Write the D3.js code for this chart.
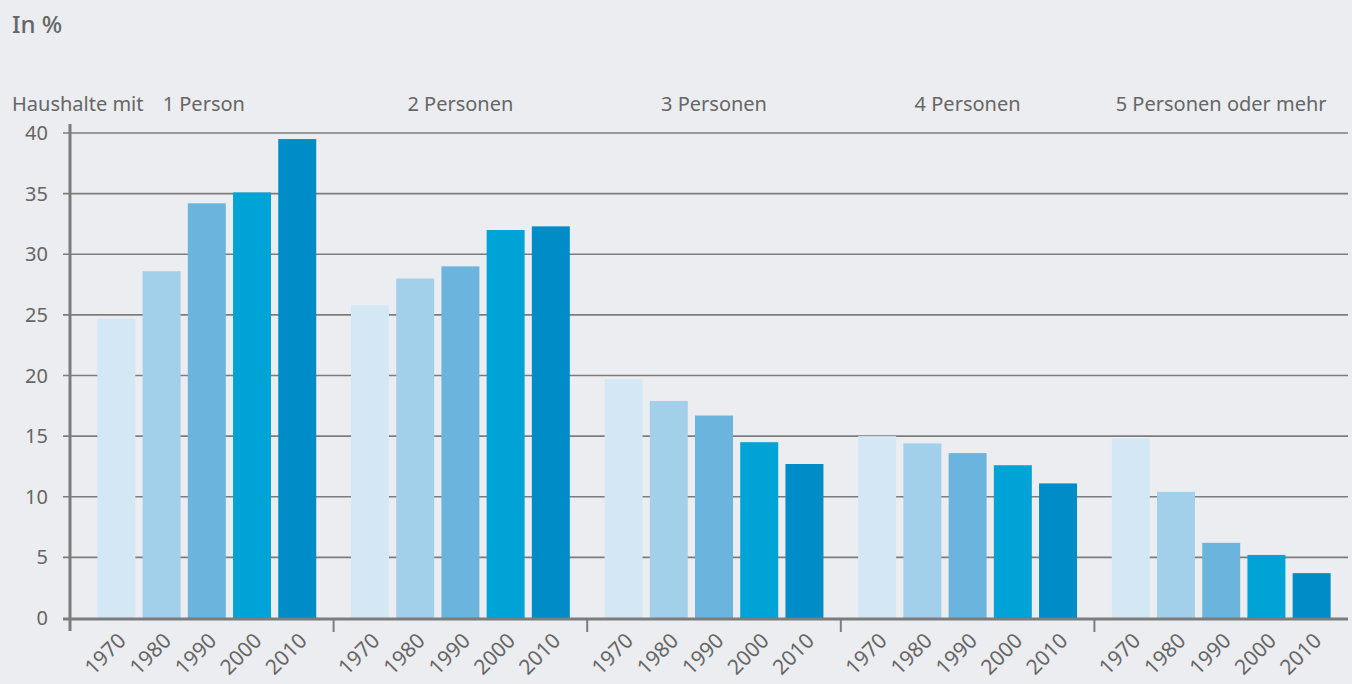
<!DOCTYPE html>
<html>
<head>
<meta charset="utf-8">
<script src="https://cdn.jsdelivr.net/npm/d3@7"></script>
<style>
  body { margin: 0; background: #ecedf0; }
  svg { display: block; font-family: "Noto Sans", sans-serif; }
</style>
</head>
<body>
<svg id="chart" width="1352" height="684"></svg>
<script>
// Haushalte nach Personenzahl, in %
var groups = ["1 Person", "2 Personen", "3 Personen", "4 Personen", "5 Personen oder mehr"];
var years = ["1970", "1980", "1990", "2000", "2010"];
var v1970 = [24.7, 25.8, 19.7, 15.0, 14.8];
var v1980 = [28.6, 28.0, 17.9, 14.4, 10.4];
var v1990 = [34.2, 29.0, 16.7, 13.6, 6.2];
var v2000 = [35.1, 32.0, 14.5, 12.6, 5.2];
var v2010 = [39.5, 32.3, 12.7, 11.1, 3.7];
var yTicks = [0, 5, 10, 15, 20, 25, 30, 35, 40];
var colors = ["#d4e7f5", "#a2cfe9", "#6bb4dd", "#00a3d5", "#008cc7"];

var series = [v1970, v1980, v1990, v2000, v2010];
var rows = [];
groups.forEach(function(g, gi) {
  years.forEach(function(yr, yi) {
    rows.push({ group: g, year: yr, value: series[yi][gi] });
  });
});

var svg = d3.select("#chart");
var textColor = "#666";
var lineColor = "#7c7c7c";

var axisX = 70, plotRight = 1348;

var y = d3.scaleLinear().domain([0, 40]).range([618, 133]);

var x0 = d3.scaleBand()
  .domain(groups)
  .range([80, 1348])
  .paddingInner(0.137)
  .paddingOuter(0.0685);

var x1 = d3.scaleBand()
  .domain(years)
  .range([0, x0.bandwidth()])
  .paddingInner(0.16)
  .paddingOuter(0);

var color = d3.scaleOrdinal().domain(years).range(colors);

// title
svg.append("text")
  .attr("x", 12).attr("y", 33)
  .style("font-size", "24px")
  .style("font-weight", "500")
  .style("fill", textColor)
  .text("In %");

// gridlines
svg.append("g").selectAll("line")
  .data(yTicks.filter(function(d) { return d > 0; }))
  .enter().append("line")
  .attr("x1", axisX - 7).attr("x2", plotRight)
  .attr("y1", function(d) { return y(d); })
  .attr("y2", function(d) { return y(d); })
  .style("stroke", lineColor)
  .style("stroke-width", "1.6px");

// y labels
svg.append("g").selectAll("text")
  .data(yTicks)
  .enter().append("text")
  .attr("x", 48)
  .attr("y", function(d) { return y(d); })
  .attr("dy", "0.35em")
  .attr("text-anchor", "end")
  .style("font-size", "20px")
  .style("fill", textColor)
  .text(function(d) { return d; });

// bars
svg.append("g").selectAll("rect")
  .data(rows)
  .enter().append("rect")
  .attr("x", function(d) { return x0(d.group) + x1(d.year); })
  .attr("y", function(d) { return y(d.value); })
  .attr("width", x1.bandwidth())
  .attr("height", function(d) { return y(0) - y(d.value); })
  .style("fill", function(d) { return color(d.year); });

// axes
svg.append("line")
  .attr("x1", axisX).attr("x2", axisX)
  .attr("y1", 124).attr("y2", 631)
  .style("stroke", lineColor)
  .style("stroke-width", "3px");

svg.append("line")
  .attr("x1", axisX - 7).attr("x2", plotRight)
  .attr("y1", y(0) + 1).attr("y2", y(0) + 1)
  .style("stroke", lineColor)
  .style("stroke-width", "3px");

// group separators on the bottom axis
var step = x0.step();
svg.append("g").selectAll("line")
  .data(groups.slice(1))
  .enter().append("line")
  .attr("x1", function(d) { return x0(d) - step * x0.paddingInner() / 2; })
  .attr("x2", function(d) { return x0(d) - step * x0.paddingInner() / 2; })
  .attr("y1", y(0)).attr("y2", 632)
  .style("stroke", lineColor)
  .style("stroke-width", "2px");

// year labels
svg.append("g").selectAll("text")
  .data(rows)
  .enter().append("text")
  .attr("transform", function(d) {
    var cx = x0(d.group) + x1(d.year) + x1.bandwidth() / 2 + 11;
    return "translate(" + cx + ",642) rotate(-45)";
  })
  .attr("text-anchor", "end")
  .style("font-size", "21px")
  .style("fill", textColor)
  .text(function(d) { return d.year; });

// group labels
svg.append("text")
  .attr("x", 12).attr("y", 111)
  .style("font-size", "20px")
  .style("fill", textColor)
  .text("Haushalte mit");

svg.append("g").selectAll("text")
  .data(groups)
  .enter().append("text")
  .attr("x", function(d, i) { return x0(d) + x0.bandwidth() / 2 + (i === 0 ? -3 : 0); })
  .attr("y", 111)
  .attr("text-anchor", "middle")
  .style("font-size", "20px")
  .style("fill", textColor)
  .text(function(d) { return d; });
</script>
</body>
</html>
